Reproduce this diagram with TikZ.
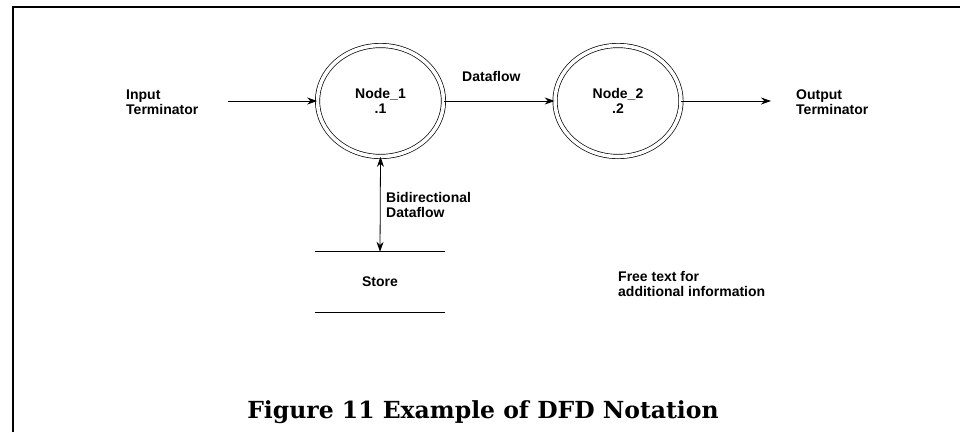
\documentclass[tikz,border=0pt]{standalone}
\usepackage{fontspec}
\setmainfont{Liberation Sans}
\newfontfamily\captionfont{DejaVu Serif}
\usepackage{tikz}
\usetikzlibrary{positioning, arrows.meta, shapes.geometric}

\tikzset{
    process/.style={ellipse, draw, double, double distance=3.6pt, line width=0.7pt,
        minimum width=126pt, minimum height=111pt, align=center, inner sep=0pt},
    tag/.style={align=left, anchor=west, inner sep=0pt},
    flow/.style={line width=0.8pt, -{Stealth[length=10pt, width=7pt]}},
    dfdtext/.style={font=\fontsize{14pt}{15pt}\selectfont\bfseries}
}

\begin{document}
\begin{tikzpicture}[x=1pt, y=-1pt, dfdtext]
        \useasboundingbox (0,0) rectangle (960,432);

        \coordinate (in) at (228,101);
        \coordinate (out) at (771,101);

        % processes
        \node[process] (node1) at (380.5,101) {Node\_1\\.1};
        \node[process] (node2) at (618,101) {Node\_2\\.2};

        % store, only top and bottom lines
        \node[minimum width=130pt, minimum height=60pt, inner sep=0pt] (store) at (380,282) {Store};
        \draw[line width=0.8pt] (store.north west) -- (store.north east);
        \draw[line width=0.8pt] (store.south west) -- (store.south east);

        % terminators and free text
        \node[tag] (inputterm) at (126,102) {Input\\Terminator};
        \node[tag] (outputterm) at (796,102) {Output\\Terminator};
        \node[tag] (freetext) at (618,284) {Free text for\\additional information};

        % dataflows
        \draw[flow] (in) -- (node1);
        \draw[flow] (node1) -- (node2);
        \node[tag] (dflabel) at (462,76) {Dataflow};
        \draw[flow] (node2) -- (out);
        \draw[line width=0.8pt, {Stealth[length=10pt, width=7pt]}-{Stealth[length=10pt, width=7pt]}] (node1.south) -- (store.north);
        \node[tag] (bidir) at (386,205) {Bidirectional\\Dataflow};

        % frame
        \draw[line width=2pt] (13,432) -- (13,7) -- (960,7);

        % caption
        \node[font=\captionfont\fontsize{23.5pt}{25pt}\selectfont\bfseries, anchor=base] (caption) at (483,418) {Figure 11 Example of DFD Notation};
    \end{tikzpicture}
\end{document}
